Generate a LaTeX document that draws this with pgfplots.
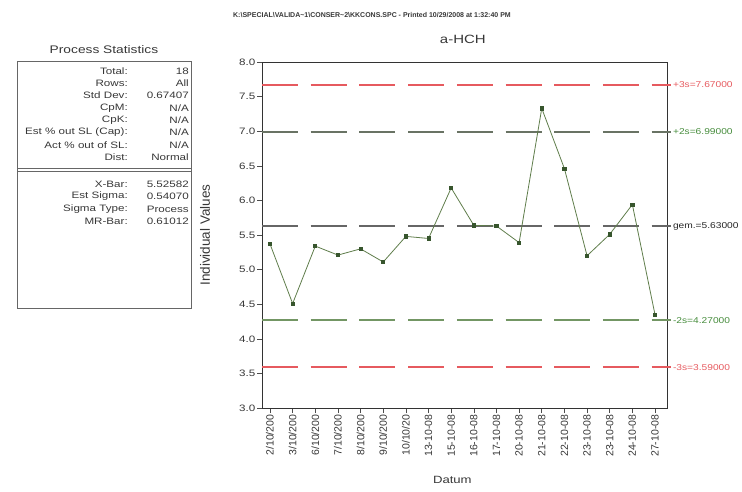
\documentclass[border=0pt]{standalone}
\usepackage{fontspec}
\setmainfont{Liberation Sans}
\usepackage{graphicx}
\usepackage{pgfplots}
\pgfplotsset{compat=1.18}
\definecolor{limred}{RGB}{230,90,95}
\definecolor{limgreen}{RGB}{70,140,60}
\definecolor{limtwoup}{RGB}{105,115,100}
\definecolor{limtwodn}{RGB}{115,150,100}
\definecolor{dataline}{RGB}{95,125,75}
\definecolor{datamark}{RGB}{55,85,45}
\definecolor{txt}{RGB}{55,55,55}
% the old chart sets its text wide
\newcommand{\hs}[1]{\scalebox{1.25}[1]{#1}}
\newcommand{\hl}[1]{\scalebox{1.2}[1]{#1}}
\tikzset{
  limlabel/.style={pos=1, anchor=west, inner sep=1pt, font=\fontsize{8.5}{10}\selectfont},
  limdash/.style={line width=1.5pt, dash pattern=on 36pt off 12.7pt},
}

\begin{document}
\begin{tikzpicture}
\path[use as bounding box] (0pt,0pt) rectangle (742pt,-491pt);

% header and statistics panel
\node[font=\fontsize{7}{8}\selectfont\bfseries, text=txt] at (372pt,-15pt)
  {K:\textbackslash SPECIAL\textbackslash VALIDA\textasciitilde 1\textbackslash CONSER\textasciitilde 2\textbackslash KKCONS.SPC - Printed 10/29/2008 at 1:32:40 PM};
\node[font=\fontsize{11}{12}\selectfont, text=txt] at (104pt,-50pt) {\hs{Process Statistics}};
\draw[black!60, line width=0.9pt] (17pt,-61pt) rectangle (191pt,-308pt);
\draw[black!60, line width=0.7pt] (17pt,-168pt) -- (191pt,-168pt);
\draw[black!60, line width=0.7pt] (17pt,-171pt) -- (191pt,-171pt);
\begin{scope}[every node/.style={font=\fontsize{9.3}{10}\selectfont, text=txt, inner sep=0pt}]
\foreach \lab/\val [count=\i from 0] in {Total:/18, Rows:/All, Std Dev:/0.67407, CpM:/{N/A}, CpK:/{N/A},
    Est \% out SL (Cap):/{N/A}, Act \% out of SL:/{N/A}, Dist:/Normal} {
  \node[anchor=east] at (128pt,-71pt-\i*12.3pt) {\hs{\lab}};
  \node[anchor=east] at (189pt,-71pt-\i*12.3pt) {\hs{\val}};
}
\foreach \lab/\val [count=\i from 0] in {X-Bar:/5.52582, Est Sigma:/0.54070, Sigma Type:/Process, MR-Bar:/0.61012} {
  \node[anchor=east] at (128pt,-184pt-\i*12.5pt) {\hs{\lab}};
  \node[anchor=east] at (189pt,-184pt-\i*12.5pt) {\hs{\val}};
}
\end{scope}

\begin{axis}[
    at={(262pt,-408pt)}, anchor=south west,
    scale only axis, width=405pt, height=346pt,
    xmin=-0.353, xmax=17.53, ymin=3, ymax=8,
    clip=false,
    axis line style={black!80, line width=0.8pt},
    tick align=outside, xtick pos=bottom, ytick pos=left,
    major tick length=5pt,
    tick style={black!70, line width=0.6pt},
    ytick={3,3.5,4,4.5,5,5.5,6,6.5,7,7.5,8},
    yticklabels={\hs{3.0},\hs{3.5},\hs{4.0},\hs{4.5},\hs{5.0},\hs{5.5},\hs{6.0},\hs{6.5},\hs{7.0},\hs{7.5},\hs{8.0}},
    yticklabel style={font=\fontsize{9.3}{10}\selectfont, text=txt, inner sep=1.5pt},
    xtick={0,...,17},
    xticklabels={2/10/200,3/10/200,6/10/200,7/10/200,8/10/200,9/10/200,10/10/20,
        13-10-08,15-10-08,16-10-08,17-10-08,20-10-08,21-10-08,22-10-08,
        23-10-08,23-10-08,24-10-08,27-10-08},
    xticklabel style={rotate=90, anchor=east, font=\fontsize{10.5}{11}\selectfont, text=txt, inner sep=1.5pt},
    ylabel={Individual Values},
    ylabel style={font=\fontsize{13.5}{14}\selectfont, text=txt, at={(-57pt,0.5)}, anchor=center},
    xlabel={\hs{Datum}},
    xlabel style={font=\fontsize{10.5}{11}\selectfont, text=txt, at={(0.47,-72pt)}, anchor=center},
    title={\hs{a-HCH}},
    title style={font=\fontsize{12}{13}\selectfont, text=txt, at={(0.496,1)}, anchor=center, yshift=17pt},
  ]
  % control limits
  \addplot[limred, limdash] coordinates {(-0.353,7.67) (17.72,7.67)}
    node[limlabel, text=limred] {\hl{+3s=7.67000}};
  \addplot[limtwoup, limdash] coordinates {(-0.353,6.99) (17.72,6.99)}
    node[limlabel, text=limgreen] {\hl{+2s=6.99000}};
  \addplot[black!60, limdash] coordinates {(-0.353,5.63) (17.72,5.63)}
    node[limlabel, text=black!85] {\hl{gem.=5.63000}};
  \addplot[limtwodn, limdash] coordinates {(-0.353,4.27) (17.72,4.27)}
    node[limlabel, text=limgreen] {\hl{-2s=4.27000}};
  \addplot[limred, limdash] coordinates {(-0.353,3.59) (17.72,3.59)}
    node[limlabel, text=limred] {\hl{-3s=3.59000}};
  % individual values
  \addplot[dataline, line width=0.8pt, mark=square*, mark size=1.6pt,
      mark options={fill=datamark, draw=datamark}]
    coordinates {
      (0,5.37) (1,4.51) (2,5.34) (3,5.21) (4,5.30) (5,5.11) (6,5.48) (7,5.45) (8,6.18)
      (9,5.64) (10,5.63) (11,5.39) (12,7.33) (13,6.46) (14,5.20) (15,5.51) (16,5.94) (17,4.35)
    };
\end{axis}
\end{tikzpicture}
\end{document}
